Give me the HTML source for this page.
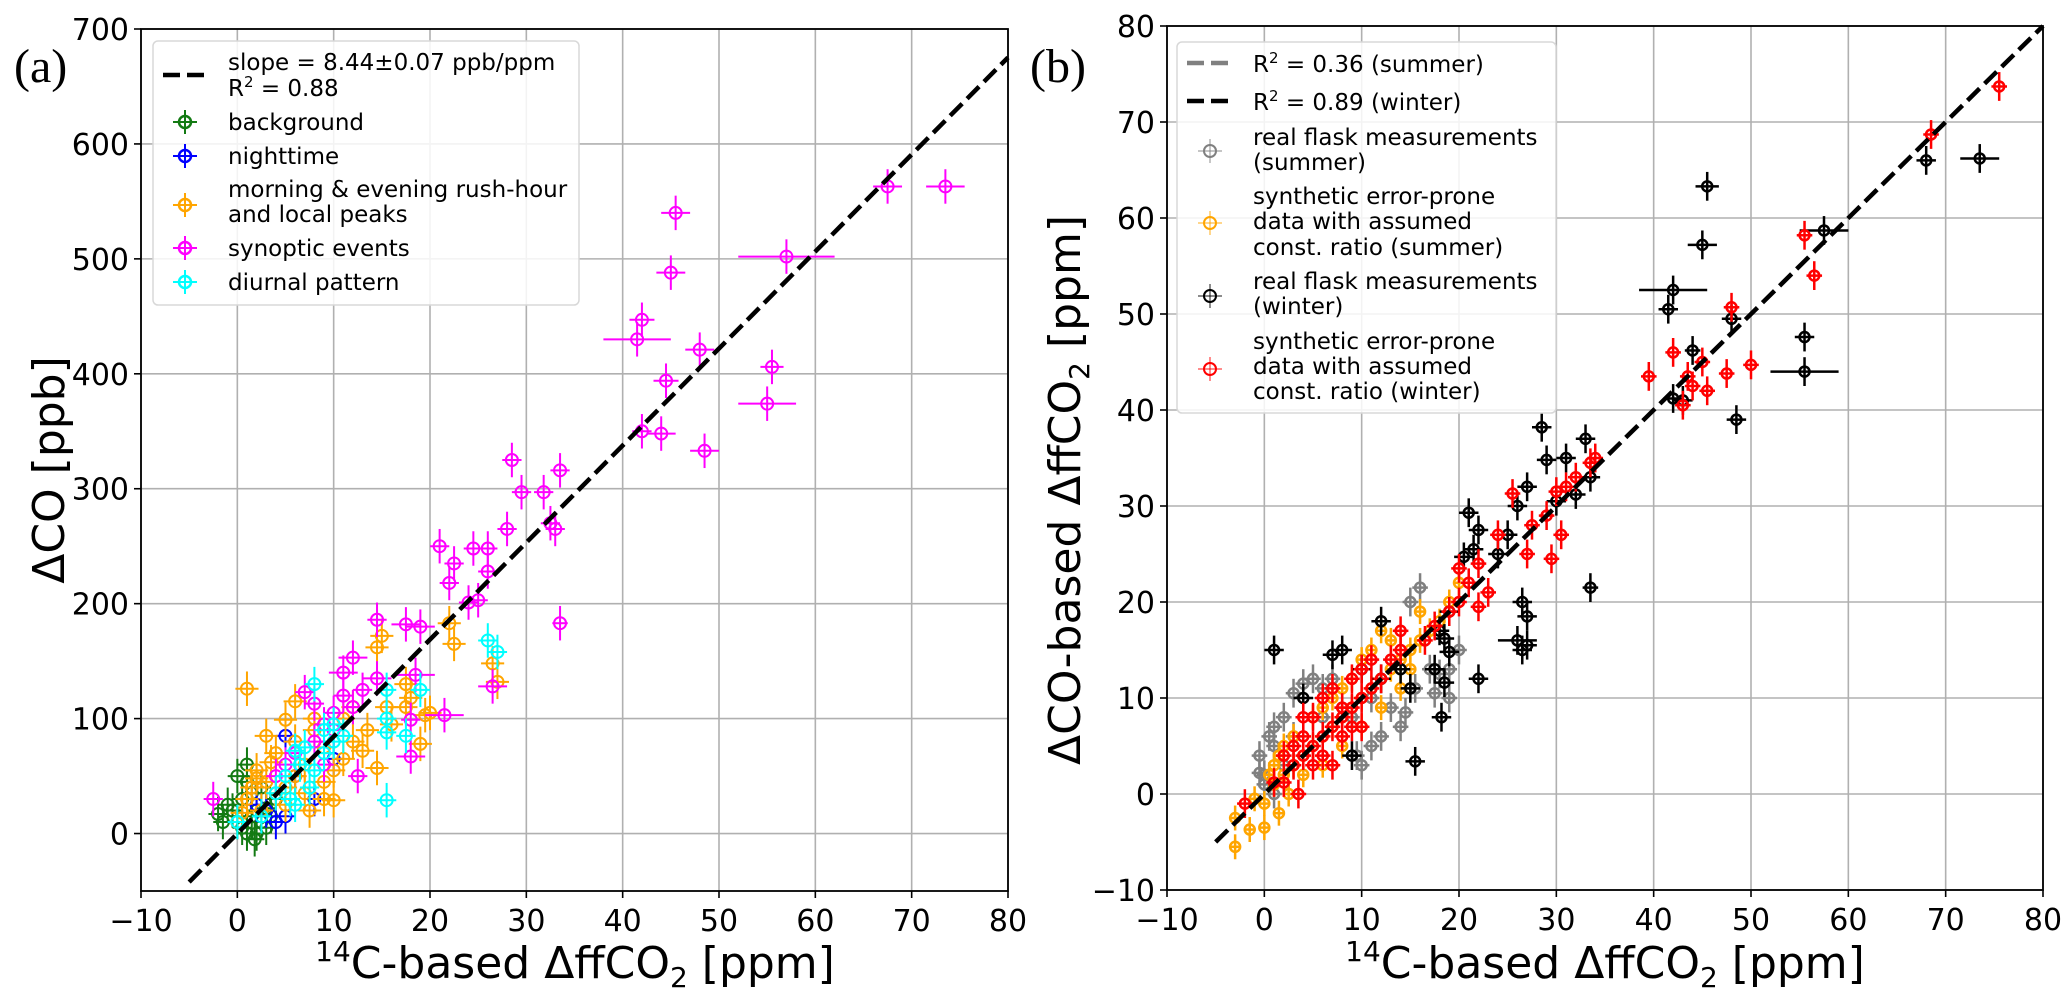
<!DOCTYPE html>
<html><head><meta charset="utf-8"><style>
body{margin:0;background:#fff;width:2067px;height:998px;overflow:hidden}
svg{display:block}
text{font-family:"DejaVu Sans","Liberation Sans",sans-serif;fill:#000}
</style></head><body>
<svg id="fig" width="2067" height="998" xmlns="http://www.w3.org/2000/svg">
<g id="pa"></g>
<g id="pb"></g>
</svg>
<script>
// ---------- Panel (a) data ----------
const aTicksX=[-10,0,10,20,30,40,50,60,70,80];
const aTicksY=[0,100,200,300,400,500,600,700];
const bgX=[-2,-1,0,0.5,1,1.5,2,2.5,3,1,-0.5,0.5,1.5,2,3,2.5,0,1,3.5,-1.5,4,1.8];
const bgY=[17,25,10,5,0,15,20,10,5,60,20,30,35,0,22,40,50,45,15,10,30,-5];
const ntX=[5,4,3,5,8,10,2,6];
const ntY=[85,10,20,15,30,65,25,50];
const rhX=[1,15,14.5,22,22.5,26.5,27,17.5,17.5,19.5,19,15.5,13.5,14.5,13,10,5,3,6,8,7.5,2.5,12,11,10,9,7,6,5,4,3,2,1.5,1,0.5,4,6,8,9,11,12,16,18,20,3.5,2,5,7,9];
const rhY=[126,172,162,183,165,148,132,130,110,103,78,110,90,57,72,29,99,85,115,100,20,20,80,65,55,45,60,50,40,35,45,55,40,30,18,70,80,90,75,100,110,95,118,105,62,48,25,35,30];
const syX=[67.5,73.5,57,45.5,45,42,41.5,48,55.5,44.5,55,48.5,42,44,28.5,33.5,29.5,31.8,32.5,33,28,33.5,21,22.5,24.5,22,26,25,24,26,17.5,19,18.5,21.5,18,26.5,14.5,12,11,14.5,7,8,12.5,-2.5,10,11,12,9,13,18,10,8,6,5,4,9];
const syY=[563,563,502,540,488,447,430,421,406,394,374,333,350,348,325,316,297,297,270,265,265,183,250,235,248,218,248,203,201,228,182,180,138,103,67,128,186,153,140,135,123,113,50,30,105,120,110,95,125,99,90,80,70,60,50,60];
const syXerr=[1.5,2,5,1.5,1.5,1.3,3.5,1.5,1.2,1.3,3,1.5,1,1.5,1,1,1,1,1,1,1,0.8,1,1,1,1,1,1,1,1,1.5,1.5,2,2,1.5,1.5,1,1.5,1.5,1.5,1,1,1,1,1,1,1,1,1,1,1,1,1,1,1,1];
const cyX=[8,15.5,15.5,15.5,17.5,19,26,27,15.5,0,2.5,9,10,7,6,6.5,5,8,9,7.5,4,5.5,6,10,11];
const cyY=[130,125,100,88,85,125,168,158,29,10,15,90,95,75,72,60,50,55,70,40,35,30,25,80,85];
const aSlope=8.44, aLineX=[-5,80];

// ---------- Panel (b) data ----------
const bTicksX=[-10,0,10,20,30,40,50,60,70,80];
const bTicksY=[-10,0,10,20,30,40,50,60,70,80];
const suX=[-0.5,0,-0.5,1,2,3,4,5,6,7,16,15,18,19,19,17.5,15.5,14.5,14,12,11,10,9.5,13,1,0.5,2,3,6,8,9,11,0,1,17,20];
const suY=[4,2,2.2,7,8,10.5,11.5,12,11,12,21.5,20,12.5,10,13,10.5,11,8.5,7,6,5,3,4,9,5,6,3,6,8,9,8,10,1,0,13,15];
const osX=[-3,-3,-1.5,0,1.5,0,-1,1,2,3,4,5,6,7,8,9,10,11,12,13,14,15,16,17,18,19,20,3,4,5,6,7,8,9,10,11,12,13,14,2,1,0.5,1.5,2.5,6,8,10,12,15,16];
const osY=[-5.5,-2.5,-3.7,-3.5,-2,-1,-0.5,1,2,3,4,5,6,7,8,9,10,11,12,13,14,15,16,17,18,20,22,6,2,8,3,10,5,12,7,15,9,16,11,5,3,2,4,0,9,11,14,17,13,19];
const wiX=[1,42,41.5,45.5,45,44,43,42,48,48.5,55.5,55.5,57.5,68,73.5,33.5,28.5,29,30,32,31,33,33.5,27,26,25,24,21,22,21.5,20.5,26,27,26.5,27,26.5,22,18.5,18.2,15.5,17.5,18.5,19,12,8,7,10,12,9,4,15,14,18,19];
const wiY=[15,52.5,50.5,63.3,57.2,46.2,41,41.2,49.5,39,47.6,44,58.7,66,66.2,21.5,38.2,34.8,30.5,31.2,35,37,33,32,30,27,25,29.3,27.5,25.5,24.7,16,15.5,15,18.5,20,12,11.6,8,3.4,13,16.2,14.8,18,15,14.5,13,12,4,10,11,13,17,19];
const wiXerr=[1,3.5,1,1.2,1.5,0.8,1,1,1,1,1,3.5,2.5,1,2,0.8,1,1,1,1,1,1,1,1,1,1,1,1,1,1,1,2,1,1,1,1,1,1,1,1,1,1,1,1,1,1,1,1,1,1,1,1,1,1];
const owX=[75.5,68.5,55.5,56.5,50,48,47.5,39.5,42,43.5,44,43,45,45.5,34,33.5,32,31,30,29,27.5,27,29.5,30.5,25.5,24,22,21,20,23,19,17.5,16.5,14,13,12,11,10,9,8,7,6,5,4,3,2,1,-2,3.5,4,5,6,7,8,9,10,11,3,5,6,7,8,9,10,2,4,20,22,14];
const owY=[73.7,68.7,58.2,54,44.7,50.7,43.8,43.5,46,43.5,42.5,40.5,45,42,35,34.5,33,32,31.5,29,28,25,24.5,27,31.3,27,24,22,20,21,19,17.5,16,15,14,12,11,10,9,8,7,6,5,4,3,1.2,1.2,-1,0,6,8,10,11,9,12,13,14,5,3,4,3,6,7,7,4,8,23.5,19.5,17];
const bLineX=[-5,80], bSlope=1.0, bIcpt=0;

const NS="http://www.w3.org/2000/svg";
function mk(parent,tag,attrs){const e=document.createElementNS(NS,tag);for(const k in attrs)e.setAttribute(k,attrs[k]);parent.appendChild(e);return e;}

function makeAxes(g,L,R,T,B,xmin,xmax,ymin,ymax){
  const sx=v=>L+(v-xmin)/(xmax-xmin)*(R-L);
  const sy=v=>B-(v-ymin)/(ymax-ymin)*(B-T);
  return {sx,sy,L,R,T,B};
}
function drawFrame(g,ax,tx,ty){
  for(const t of tx){const x=ax.sx(t);
    const l=mk(g,'line',{x1:x,x2:x,y1:ax.T,y2:ax.B,stroke:'#b0b0b0','stroke-width':1.6});
    
    mk(g,'line',{x1:x,x2:x,y1:ax.B,y2:ax.B+7,stroke:'#000','stroke-width':1.6});
    const tt=mk(g,'text',{x:x,y:ax.B+40,'text-anchor':'middle','font-size':30});
    tt.textContent=(t<0?'\u2212'+(-t):t);
    }
  for(const t of ty){const y=ax.sy(t);
    const l=mk(g,'line',{x1:ax.L,x2:ax.R,y1:y,y2:y,stroke:'#b0b0b0','stroke-width':1.6});
    
    mk(g,'line',{x1:ax.L-7,x2:ax.L,y1:y,y2:y,stroke:'#000','stroke-width':1.6});
    const tt=mk(g,'text',{x:ax.L-12,y:y+11,'text-anchor':'end','font-size':30});
    tt.textContent=(t<0?'\u2212'+(-t):t);
    }
}
function drawBorder(g,ax){
  const r=mk(g,'rect',{x:ax.L,y:ax.T,width:ax.R-ax.L,height:ax.B-ax.T,fill:'none',stroke:'#000','stroke-width':1.8});
  
}
function drawSeries(g,ax,xs,ys,xe,ye,color,rad,sw,name){
  const sg=mk(g,'g',{});
  
  for(let i=0;i<xs.length;i++){
    const cx=ax.sx(xs[i]),cy=ax.sy(ys[i]);
    const ex=Array.isArray(xe)?xe[i]:xe, ey=Array.isArray(ye)?ye[i]:ye;
    const p=mk(sg,'g',{});
    
    mk(p,'line',{x1:ax.sx(xs[i]-ex),x2:ax.sx(xs[i]+ex),y1:cy,y2:cy,stroke:color,'stroke-width':sw});
    mk(p,'line',{x1:cx,x2:cx,y1:ax.sy(ys[i]-ey),y2:ax.sy(ys[i]+ey),stroke:color,'stroke-width':sw});
    mk(p,'circle',{cx:cx,cy:cy,r:rad,fill:'none',stroke:color,'stroke-width':sw});
  }
}
function legendMarker(g,x,y,color,sw,op){
  mk(g,'line',{x1:x-12,x2:x+12,y1:y,y2:y,stroke:color,'stroke-width':sw,opacity:op});
  mk(g,'line',{x1:x,x2:x,y1:y-12,y2:y+12,stroke:color,'stroke-width':sw,opacity:op});
  mk(g,'circle',{cx:x,cy:y,r:6,fill:'none',stroke:color,'stroke-width':sw+0.5});
}
function legText(g,x,y,s,name){const t=mk(g,'text',{x:x,y:y,'font-size':23});t.innerHTML=s;return t;}

// ===== Panel A =====
const ga=document.getElementById('pa');
const A=makeAxes(ga,141,1008,29,891,-10,80,-50,700);
drawFrame(ga,A,aTicksX,aTicksY);
drawSeries(ga,A,bgX,bgY,1,15,'#137a13',6,2,'background-series');
drawSeries(ga,A,ntX,ntY,1,15,'#0000ff',6,2,'nighttime-series');
drawSeries(ga,A,rhX,rhY,1.2,15,'#ffa500',6,2,'rush-hour-series');
drawSeries(ga,A,syX,syY,syXerr,15,'#ff00ff',6,2,'synoptic-series');
drawSeries(ga,A,cyX,cyY,1,15,'#00ffff',6,2,'diurnal-series');
(function(){const l=mk(ga,'line',{x1:A.sx(aLineX[0]),y1:A.sy(aSlope*aLineX[0]),x2:A.sx(aLineX[1]),y2:A.sy(aSlope*aLineX[1]),stroke:'#000','stroke-width':4.5,'stroke-dasharray':'17,7'});
})();
drawBorder(ga,A);
(function(){const lg=mk(ga,'g',{});
mk(lg,'rect',{x:153,y:41,width:426,height:264,rx:5,fill:'#fff','fill-opacity':0.85,stroke:'#d8d8d8','stroke-width':1.5});
mk(lg,'line',{x1:163,x2:204,y1:75,y2:75,stroke:'#000','stroke-width':4.5,'stroke-dasharray':'17,7'});
legText(lg,228,70,'slope = 8.44±0.07 ppb/ppm','legend-slope');
legText(lg,228,96,'R<tspan font-size="15" dy="-9">2</tspan><tspan dy="9"> = 0.88</tspan>','legend-r2');
const items=[['#137a13',122,130,'background'],['#0000ff',156,164,'nighttime'],['#ffa500',205,197,'morning &amp; evening rush-hour'],['#ff00ff',248,256,'synoptic events'],['#00ffff',282,290,'diurnal pattern']];
for(const [c,y,ty,s] of items){legendMarker(lg,185,y,c,2,1);legText(lg,228,ty,s,'legend-entry');}
legText(lg,228,222,'and local peaks','legend-entry');
})();
(function(){let t=mk(ga,'text',{x:0,y:0,'font-size':44,'text-anchor':'middle',transform:'translate(64,470) rotate(-90)'});t.textContent='ΔCO [ppb]';
t=mk(ga,'text',{x:575,y:978,'font-size':44,'text-anchor':'middle'});t.innerHTML='<tspan font-size="28" dy="-17">14</tspan><tspan dy="17">C-based ΔffCO</tspan><tspan font-size="28" dy="9">2</tspan><tspan dy="-9"> [ppm]</tspan>';
t=mk(ga,'text',{x:14,y:82,'font-size':48,style:'font-family:"Liberation Serif",serif'});t.textContent='(a)';})();

// ===== Panel B =====
const gb=document.getElementById('pb');
const B=makeAxes(gb,1167,2043,26,890,-10,80,-10,80);
drawFrame(gb,B,bTicksX,bTicksY);
drawSeries(gb,B,suX,suY,0.8,1.5,'#808080',5,2.5,'summer-real-series');
drawSeries(gb,B,osX,osY,0.6,1.3,'#ffa500',5,2.5,'summer-synthetic-series');
drawSeries(gb,B,wiX,wiY,wiXerr,1.5,'#000000',5,2.5,'winter-real-series');
drawSeries(gb,B,owX,owY,0.8,1.5,'#ff0000',5,2.5,'winter-synthetic-series');
(function(){const l=mk(gb,'line',{x1:B.sx(bLineX[0]),y1:B.sy(bSlope*bLineX[0]+bIcpt),x2:B.sx(bLineX[1]),y2:B.sy(bSlope*bLineX[1]+bIcpt),stroke:'#000','stroke-width':4.5,'stroke-dasharray':'17,7'});
})();
drawBorder(gb,B);
(function(){const lg=mk(gb,'g',{});
mk(lg,'rect',{x:1177,y:42,width:379,height:371,rx:5,fill:'#fff','fill-opacity':0.85,stroke:'#d8d8d8','stroke-width':1.5});
mk(lg,'line',{x1:1187,x2:1228,y1:63,y2:63,stroke:'#808080','stroke-width':4.5,'stroke-dasharray':'17,7'});
mk(lg,'line',{x1:1187,x2:1228,y1:101,y2:101,stroke:'#000','stroke-width':4.5,'stroke-dasharray':'17,7'});
legText(lg,1253,72,'R<tspan font-size="15" dy="-9">2</tspan><tspan dy="9"> = 0.36 (summer)</tspan>','legend-r2-summer');
legText(lg,1253,110,'R<tspan font-size="15" dy="-9">2</tspan><tspan dy="9"> = 0.89 (winter)</tspan>','legend-r2-winter');
legendMarker(lg,1210,151,'#808080',1.5,0.6);legendMarker(lg,1210,223,'#ffa500',1.5,0.6);
legendMarker(lg,1210,296,'#000',1.5,0.6);legendMarker(lg,1210,369,'#ff0000',1.5,0.6);
const lines=[[145,'real flask measurements'],[170,'(summer)'],[204,'synthetic error-prone'],[229,'data with assumed'],[255,'const. ratio (summer)'],[289,'real flask measurements'],[314,'(winter)'],[349,'synthetic error-prone'],[374,'data with assumed'],[399,'const. ratio (winter)']];
for(const [y,s] of lines)legText(lg,1253,y,s,'legend-entry');
})();
(function(){let t=mk(gb,'text',{x:0,y:0,'font-size':44,'text-anchor':'middle',transform:'translate(1080,490) rotate(-90)'});t.innerHTML='ΔCO-based ΔffCO<tspan font-size="28" dy="9">2</tspan><tspan dy="-9"> [ppm]</tspan>';
t=mk(gb,'text',{x:1605,y:978,'font-size':44,'text-anchor':'middle'});t.innerHTML='<tspan font-size="28" dy="-17">14</tspan><tspan dy="17">C-based ΔffCO</tspan><tspan font-size="28" dy="9">2</tspan><tspan dy="-9"> [ppm]</tspan>';
t=mk(gb,'text',{x:1030,y:82,'font-size':48,style:'font-family:"Liberation Serif",serif'});t.textContent='(b)';})();
</script>
</body></html>
